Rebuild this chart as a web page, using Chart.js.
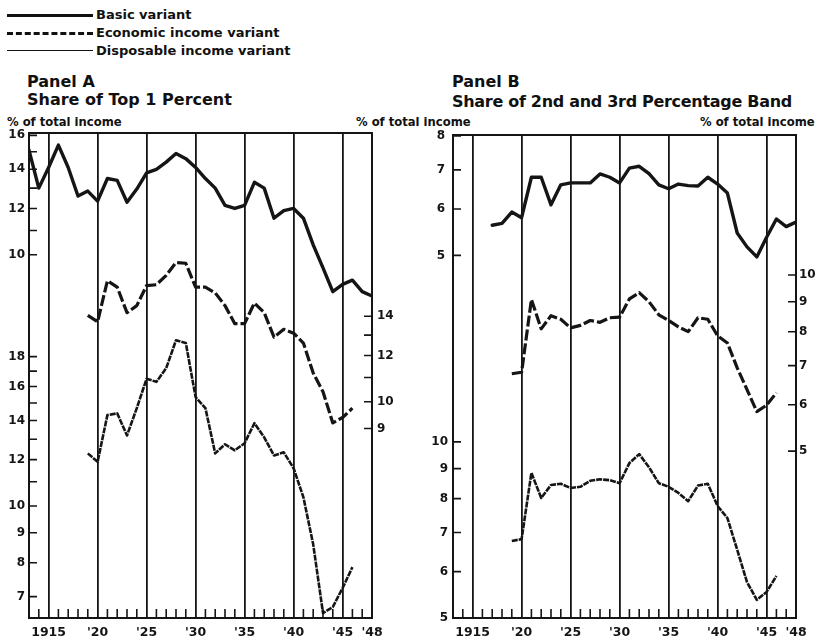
<!DOCTYPE html>
<html>
<head>
<meta charset="utf-8">
<script src="https://cdn.jsdelivr.net/npm/chart.js@4.4.1/dist/chart.umd.min.js"></script>
<style>
  html, body { margin: 0; padding: 0; background: #fff; }
  body { width: 816px; height: 641px; position: relative; overflow: hidden; font-family: "DejaVu Sans", sans-serif; color: #111; }
  canvas { position: absolute; top: 0; }
  #panelA { left: 0; }
  #panelB { left: 408px; }
  .txt { position: absolute; white-space: nowrap; font-weight: bold; }
  .leg { font-size: 13px; line-height: 14px; left: 96px; }
  .ttl { font-size: 16px; line-height: 18px; }
  .unit { font-size: 11.6px; line-height: 13px; top: 116px; }
  .legline { position: absolute; left: 7px; width: 86px; height: 0; }
</style>
</head>
<body>
<div class="legline" style="top:14px; border-top:3px solid #111"></div>
<div class="legline" style="top:32px; border-top:3px dashed #111"></div>
<div class="legline" style="top:50px; border-top:1.5px solid #111"></div>
<div class="txt leg" style="top:8px">Basic variant</div>
<div class="txt leg" style="top:26px">Economic income variant</div>
<div class="txt leg" style="top:44px">Disposable income variant</div>

<div class="txt ttl" style="left:27px; top:73px">Panel A</div>
<div class="txt ttl" style="left:27px; top:91px">Share of Top 1 Percent</div>
<div class="txt ttl" style="left:452px; top:73px">Panel B</div>
<div class="txt ttl" style="left:452px; top:93px; letter-spacing:-0.3px">Share of 2nd and 3rd Percentage Band</div>

<div class="txt unit" style="left:7px">% of total income</div>
<div class="txt unit" style="left:356px">% of total income</div>
<div class="txt unit" style="left:700px">% of total income</div>

<canvas id="panelA" width="408" height="641"></canvas>
<canvas id="panelB" width="408" height="641"></canvas>

<script>
const years = [1913, 1914, 1915, 1916, 1917, 1918, 1919, 1920, 1921, 1922, 1923, 1924,
  1925, 1926, 1927, 1928, 1929, 1930, 1931, 1932, 1933, 1934, 1935, 1936,
  1937, 1938, 1939, 1940, 1941, 1942, 1943, 1944, 1945, 1946, 1947, 1948]

// Panel A, share of top 1 percent
const basicA = [15.1, 13.0, 14.1, 15.4, 14.1, 12.6, 12.85, 12.35, 13.5, 13.4, 12.3, 12.95,
  13.8, 14.0, 14.4, 14.9, 14.6, 14.1, 13.5, 13.0, 12.15, 12.0, 12.15, 13.3,
  13.0, 11.55, 11.9, 12.0, 11.55, 10.4, 9.5, 8.65, 8.9, 9.05, 8.65, 8.5]
const economicA = [null, null, null, null, null, null, 14.05, 13.7, 16.1, 15.7, 14.2, 14.6,
  15.8, 15.85, 16.45, 17.3, 17.25, 15.7, 15.7, 15.35, 14.6, 13.6, 13.6, 14.75,
  14.2, 12.9, 13.3, 13.1, 12.6, 11.2, 10.4, 9.2, 9.4, 9.75, null, null]
const disposableA = [null, null, null, null, null, null, 12.3, 11.9, 14.3, 14.4, 13.2, 14.7,
  16.5, 16.3, 17.2, 19.2, 19.0, 15.35, 14.7, 12.3, 12.75, 12.45, 12.8, 13.85,
  13.1, 12.2, 12.35, 11.6, 10.35, 8.6, 6.56, 6.72, 7.24, 7.86, null, null]

// Panel B, share of 2nd and 3rd percentage band
const basicB = [null, null, null, null, 5.63, 5.67, 5.93, 5.8, 6.8, 6.8, 6.1, 6.6,
  6.65, 6.65, 6.65, 6.89, 6.8, 6.65, 7.05, 7.1, 6.9, 6.6, 6.5, 6.62,
  6.58, 6.57, 6.8, 6.62, 6.39, 5.46, 5.17, 4.97, 5.37, 5.77, 5.6, 5.7]
const economicB = [null, null, null, null, null, null, 6.78, 6.82, 9.08, 8.09, 8.52, 8.4,
  8.12, 8.2, 8.36, 8.3, 8.45, 8.47, 9.1, 9.33, 9.0, 8.55, 8.36, 8.15,
  8.0, 8.45, 8.4, 7.87, 7.65, 6.94, 6.37, 5.84, 5.99, 6.29, null, null]
const disposableB = [null, null, null, null, null, null, 6.77, 6.82, 8.85, 8.02, 8.44, 8.48,
  8.34, 8.38, 8.58, 8.63, 8.6, 8.5, 9.2, 9.53, 9.05, 8.5, 8.38, 8.18,
  7.92, 8.42, 8.48, 7.77, 7.41, 6.54, 5.76, 5.37, 5.54, 5.9, null, null]

// axis ticks
const xTickYears = [1915, 1920, 1925, 1930, 1935, 1940, 1945, 1948]
const xTickLabels = ["1915", "'20", "'25", "'30", "'35", "'40", "'45", "'48"]
const basicATicks = [16, 15, 14, 13, 12, 11, 10]
const basicALabels = [16, 14, 12, 10]
const economicATicks = [14, 13, 12, 11, 10, 9]
const economicALabels = [14, 12, 10, 9]
const disposableATicks = [18, 17, 16, 15, 14, 13, 12, 11, 10, 9, 8, 7]
const disposableALabels = [18, 16, 14, 12, 10, 9, 8, 7]
const basicBTicks = [8, 7, 6, 5]
const economicBTicks = [10, 9, 8, 7, 6, 5]
const disposableBTicks = [10, 9, 8, 7, 6, 5]

const INK = "#151515"
const tickFont = { family: "'DejaVu Sans', sans-serif", weight: "bold", size: 12 }

const points = vals => years.map((x, i) => ({ x, y: vals[i] }))

// frame, inward tick marks on every axis, small year ticks along the bottom
const framePlugin = {
  id: "frame",
  afterDraw(chart) {
    const { ctx, chartArea: a, scales } = chart
    ctx.save()
    ctx.strokeStyle = INK
    ctx.lineWidth = 2
    ctx.strokeRect(a.left, a.top, a.right - a.left, a.bottom - a.top)

    ctx.lineWidth = 1.6
    ctx.beginPath()
    years.forEach(yr => {
      if (yr % 5 === 0 || yr === years[0] || yr === years[years.length - 1]) return
      const px = scales.x.getPixelForValue(yr)
      ctx.moveTo(px, a.bottom)
      ctx.lineTo(px, a.bottom - 9)
    })
    Object.values(scales).forEach(s => {
      if (s.axis !== "y") return
      s.ticks.forEach(t => {
        const py = s.getPixelForValue(t.value)
        if (s.position === "left") {
          ctx.moveTo(a.left, py)
          ctx.lineTo(a.left + 8, py)
        } else {
          ctx.moveTo(a.right - 8, py)
          ctx.lineTo(a.right, py)
        }
      })
    })
    ctx.stroke()
    ctx.restore()
  }
}

// inner = a second left axis with no width of its own: its labels are mirrored
// and pushed back out so they sit in the same column as the outer axis labels
function logAxis(position, min, max, ticks, labels, width, weight, padding, inner) {
  return {
    type: "logarithmic",
    position: position,
    min: min,
    max: max,
    bounds: "data",
    weight: weight,
    grid: { display: false, drawTicks: false },
    border: { display: false },
    afterBuildTicks: s => { s.ticks = ticks.map(v => ({ value: v })) },
    afterFit: s => { s.width = width },
    ticks: {
      autoSkip: false,
      mirror: !!inner,
      crossAlign: inner ? "far" : "near",
      padding: inner ? -(padding + 16.7) : padding,
      color: INK,
      font: tickFont,
      callback: v => labels.includes(v) ? String(v) : ""
    }
  }
}

function yearAxis() {
  return {
    type: "linear",
    min: 1913,
    max: 1948,
    bounds: "data",
    grid: { color: INK, lineWidth: 1.8, drawTicks: false },
    border: { display: false },
    afterBuildTicks: s => { s.ticks = xTickYears.map(v => ({ value: v })) },
    afterFit: s => { s.height = 23 },
    ticks: {
      autoSkip: false,
      maxRotation: 0,
      padding: 7,
      color: INK,
      font: { family: "'DejaVu Sans', sans-serif", weight: "bold", size: 12.5 },
      callback: v => xTickLabels[xTickYears.indexOf(v)]
    }
  }
}

function series(vals, axis, style) {
  return Object.assign({
    data: points(vals),
    yAxisID: axis,
    borderColor: INK,
    pointRadius: 0,
    tension: 0,
    borderJoinStyle: "round",
    borderCapStyle: "round",
    spanGaps: false
  }, style)
}

const basicStyle = { borderWidth: 3.4 }
const economicStyle = { borderWidth: 3.2, borderDash: [11, 3], borderCapStyle: "butt" }
const disposableStyle = { borderWidth: 2.6, borderDash: [6, 1], borderCapStyle: "butt" }

const common = {
  responsive: false,
  animation: false,
  events: [],
  plugins: { legend: { display: false }, tooltip: { enabled: false } }
}

new Chart(document.getElementById("panelA"), {
  type: "line",
  data: {
    datasets: [
      series(basicA, "yBasic", basicStyle),
      series(economicA, "yEconomic", economicStyle),
      series(disposableA, "yDisposable", disposableStyle)
    ]
  },
  options: Object.assign({}, common, {
    layout: { padding: { top: 133, left: 0, right: 0, bottom: 0 } },
    scales: {
      x: yearAxis(),
      yBasic: logAxis("left", 2.394, 16.15, basicATicks, basicALabels, 29, 1, 4),
      yDisposable: logAxis("left", 6.435, 43.4, disposableATicks, disposableALabels, 0, 0, 4, true),
      yEconomic: logAxis("right", 4.27, 28.8, economicATicks, economicALabels, 36, 0, 5)
    }
  }),
  plugins: [framePlugin]
})

new Chart(document.getElementById("panelB"), {
  type: "line",
  data: {
    datasets: [
      series(basicB, "yBasic", basicStyle),
      series(economicB, "yEconomic", economicStyle),
      series(disposableB, "yDisposable", disposableStyle)
    ]
  },
  options: Object.assign({}, common, {
    layout: { padding: { top: 135, left: 0, right: 0, bottom: 0 } },
    scales: {
      x: yearAxis(),
      yBasic: logAxis("left", 1.2, 8.03, basicBTicks, basicBTicks, 45, 1, 8),
      yDisposable: logAxis("left", 5, 33.46, disposableBTicks, disposableBTicks, 0, 0, 5, true),
      yEconomic: logAxis("right", 2.592, 17.35, economicBTicks, economicBTicks, 20, 0, 3)
    }
  }),
  plugins: [framePlugin]
})
</script>
</body>
</html>
